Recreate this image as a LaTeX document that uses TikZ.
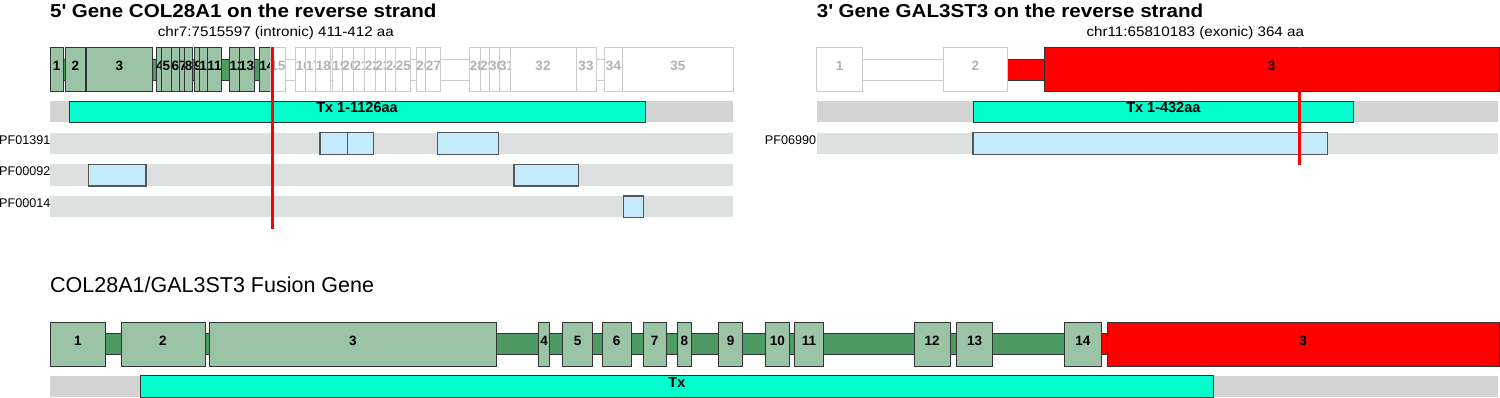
\documentclass[tikz,border=0pt]{standalone}
\usepackage{fontspec}
\setmainfont{Liberation Sans}
\newfontfamily\wideff{Liberation Sans}[FakeStretch=1.1]
\definecolor{exonfill}{RGB}{154,196,165}
\definecolor{intronfill}{RGB}{78,154,99}
\definecolor{edge}{RGB}{51,51,51}
\definecolor{txcyan}{RGB}{0,255,204}
\definecolor{txgray}{RGB}{211,211,211}
\definecolor{domgray}{RGB}{220,224,224}
\definecolor{domfill}{RGB}{196,234,251}
\definecolor{domedge}{RGB}{85,85,85}
\definecolor{ghostedge}{RGB}{204,204,204}
\definecolor{ghosttext}{RGB}{178,178,178}
\tikzset{
 bx/.style={rectangle, inner sep=0pt, outer sep=0pt},
 exonlbl/.style={font=\bfseries\fontsize{13.5}{13.5}\selectfont, text depth=6pt},
 exon/.style={bx, exonlbl, draw=edge, line width=0.9pt, fill=exonfill, minimum height=44pt},
 redexon/.style={exon, fill=red},
 ghostexon/.style={bx, exonlbl, draw=ghostedge, line width=0.9pt, fill=white, text=ghosttext, minimum height=44pt},
 intron/.style={bx, draw=edge, line width=0.9pt, fill=intronfill, minimum height=21pt},
 redintron/.style={intron, fill=red},
 ghostintron/.style={bx, draw=ghostedge, line width=0.9pt, fill=white, minimum height=21pt},
 txbg/.style={bx, fill=txgray, minimum height=21.5pt},
 domrow/.style={bx, fill=domgray, minimum height=21.5pt},
 tx/.style={bx, draw=edge, line width=0.9pt, fill=txcyan, minimum height=21.5pt, font=\bfseries\fontsize{14.5}{14.5}\selectfont, text depth=8pt},
 dom/.style={bx, draw=domedge, line width=1.2pt, fill=domfill, minimum height=21.5pt},
 domlbl/.style={inner sep=0pt, anchor=east, font=\fontsize{12.6}{12.6}\selectfont},
 bigtitle/.style={inner sep=0pt, anchor=base west, font=\wideff\bfseries\fontsize{18.7}{20}\selectfont},
 subtitle/.style={inner sep=0pt, anchor=base, font=\wideff\fontsize{13.8}{15}\selectfont},
 fustitle/.style={inner sep=0pt, anchor=base west, font=\fontsize{21.5}{24}\selectfont},
 bp/.style={draw=red, line width=3pt},
}
\newcommand\gx[6]{\node[#1, minimum width={(#4-#3)*1pt}] (#2) at ({(#3+#4)/2},#5) {#6};}
\begin{document}
\begin{tikzpicture}[x=1pt,y=-1pt]
\useasboundingbox (0,0) rectangle (1500,398);
% titles
\node[bigtitle] (t5) at (50,17.5) {5\textquotesingle{} Gene COL28A1 on the reverse strand};
\node[subtitle] (s5) at (275.9,36.7) {chr7:7515597 (intronic) 411-412 aa};
\node[bigtitle] (t3) at (816.7,17.5) {3\textquotesingle{} Gene GAL3ST3 on the reverse strand};
\node[subtitle] (s3) at (1195.3,36.7) {chr11:65810183 (exonic) 364 aa};
\node[fustitle] (tf) at (50,292.3) {COL28A1/GAL3ST3 Fusion Gene};
% ---------- 5' gene ----------
\gx{intron}{i5a}{63}{272}{69.5}{}
\gx{ghostintron}{i5b}{272}{733}{69.5}{}
\gx{exon}{a1}{50}{63.3}{69}{1}
\gx{exon}{a2}{65.3}{85.7}{69}{2}
\gx{exon}{a3}{86.3}{152.3}{69}{3}
\gx{exon}{a4}{158.3}{161.6}{69}{4}
\gx{exon}{a5}{161.6}{171}{69}{5}
\gx{exon}{a6}{171}{179.8}{69}{6}
\gx{exon}{a7}{179.8}{186.5}{69}{7}
\gx{exon}{a8}{186.5}{190.7}{69}{8}
\gx{exon}{a9}{194}{202.3}{69}{9}
\gx{exon}{a10}{203.3}{210.7}{69}{10}
\gx{exon}{a11}{210.7}{218.3}{69}{11}
\gx{exon}{a12}{232.7}{241.7}{69}{12}
\gx{exon}{a13}{241.7}{251.7}{69}{13}
\gx{exon}{a14}{262.7}{271}{69}{14}
\gx{ghostexon}{a15}{273.3}{282.3}{69}{15}
\gx{ghostexon}{a16}{298.3}{308.3}{69}{16}
\gx{ghostexon}{a17}{308.3}{318.3}{69}{17}
\gx{ghostexon}{a18}{318.3}{328.3}{69}{18}
\gx{ghostexon}{a19}{335}{345}{69}{19}
\gx{ghostexon}{a20}{345}{355}{69}{20}
\gx{ghostexon}{a21}{355}{367.3}{69}{21}
\gx{ghostexon}{a22}{367.3}{377.3}{69}{22}
\gx{ghostexon}{a23}{377.3}{388.3}{69}{23}
\gx{ghostexon}{a24}{388.3}{398.3}{69}{24}
\gx{ghostexon}{a25}{398.3}{408.3}{69}{25}
\gx{ghostexon}{a26}{419.3}{428.3}{69}{26}
\gx{ghostexon}{a27}{428.3}{438.3}{69}{27}
\gx{ghostexon}{a28}{472.5}{482.3}{69}{28}
\gx{ghostexon}{a29}{482.3}{493.3}{69}{29}
\gx{ghostexon}{a30}{493.3}{500}{69}{30}
\gx{ghostexon}{a31}{503.3}{510}{69}{31}
\gx{ghostexon}{a32}{510}{576}{69}{32}
\gx{ghostexon}{a33}{576}{596}{69}{33}
\gx{ghostexon}{a34}{604.3}{622.7}{69}{34}
\gx{ghostexon}{a35}{622.7}{733}{69}{35}
% transcript and domains
\gx{txbg}{tb5}{50}{733}{111.75}{}
\gx{tx}{tx5}{69}{645}{111.75}{Tx 1-1126aa}
\gx{domrow}{r1}{50}{733}{143.5}{}
\gx{domrow}{r2}{50}{733}{175.25}{}
\gx{domrow}{r3}{50}{733}{206.75}{}
\node[domlbl] (l1) at (50.5,139.7) {PF01391};
\node[domlbl] (l2) at (50.5,171.3) {PF00092};
\node[domlbl] (l3) at (50.5,203) {PF00014};
\gx{dom}{d1a}{320}{347.7}{143.5}{}
\gx{dom}{d1b}{347.7}{373.3}{143.5}{}
\gx{dom}{d1c}{437.3}{498.3}{143.5}{}
\gx{dom}{d2a}{88.3}{146}{175.25}{}
\gx{dom}{d2b}{514}{578.3}{175.25}{}
\gx{dom}{d3a}{623.5}{643.7}{206.75}{}
\coordinate (b5t) at (272.5,47);
\coordinate (b5b) at (272.5,229);
\draw[bp] (b5t) -- (b5b);
% ---------- 3' gene ----------
\gx{ghostintron}{j1}{862}{944}{69.5}{}
\gx{redintron}{j2}{1006}{1044}{69.5}{}
\gx{ghostexon}{c1}{816.7}{862.3}{69}{1}
\gx{ghostexon}{c2}{943.7}{1007}{69}{2}
\gx{redexon}{c3}{1044}{1499}{69}{3}
\gx{txbg}{tb3}{816.7}{1498}{111.75}{}
\gx{tx}{tx3}{973}{1353.7}{111.75}{Tx 1-432aa}
\gx{domrow}{r4}{816.7}{1498}{143.5}{}
\node[domlbl] (l4) at (816.3,139.7) {PF06990};
\gx{dom}{d4a}{973}{1327.7}{143.5}{}
\coordinate (b3t) at (1299.3,47);
\coordinate (b3b) at (1299.3,165);
\draw[bp] (b3t) -- (b3b);
% ---------- fusion ----------
\gx{intron}{fi}{105}{1100}{344}{}
\gx{redintron}{fr}{1100}{1107.5}{344}{}
\gx{exon}{f1}{50.7}{105}{344}{1}
\gx{exon}{f2}{121}{205}{344}{2}
\gx{exon}{f3}{209.3}{496.7}{344}{3}
\gx{exon}{f4}{538.3}{549.7}{344}{4}
\gx{exon}{f5}{562.3}{592.7}{344}{5}
\gx{exon}{f6}{602.3}{631}{344}{6}
\gx{exon}{f7}{643.3}{666}{344}{7}
\gx{exon}{f8}{677}{691.7}{344}{8}
\gx{exon}{f9}{718.3}{742.7}{344}{9}
\gx{exon}{f10}{765}{789.7}{344}{10}
\gx{exon}{f11}{794.7}{823.3}{344}{11}
\gx{exon}{f12}{914}{950.3}{344}{12}
\gx{exon}{f13}{956.3}{992.7}{344}{13}
\gx{exon}{f14}{1064.7}{1101}{344}{14}
\gx{redexon}{f15}{1107.3}{1499}{344}{3}
\gx{txbg}{tbf}{50}{1498}{386.5}{}
\gx{tx}{txf}{140}{1213.7}{386.5}{Tx}
\end{tikzpicture}
\end{document}
